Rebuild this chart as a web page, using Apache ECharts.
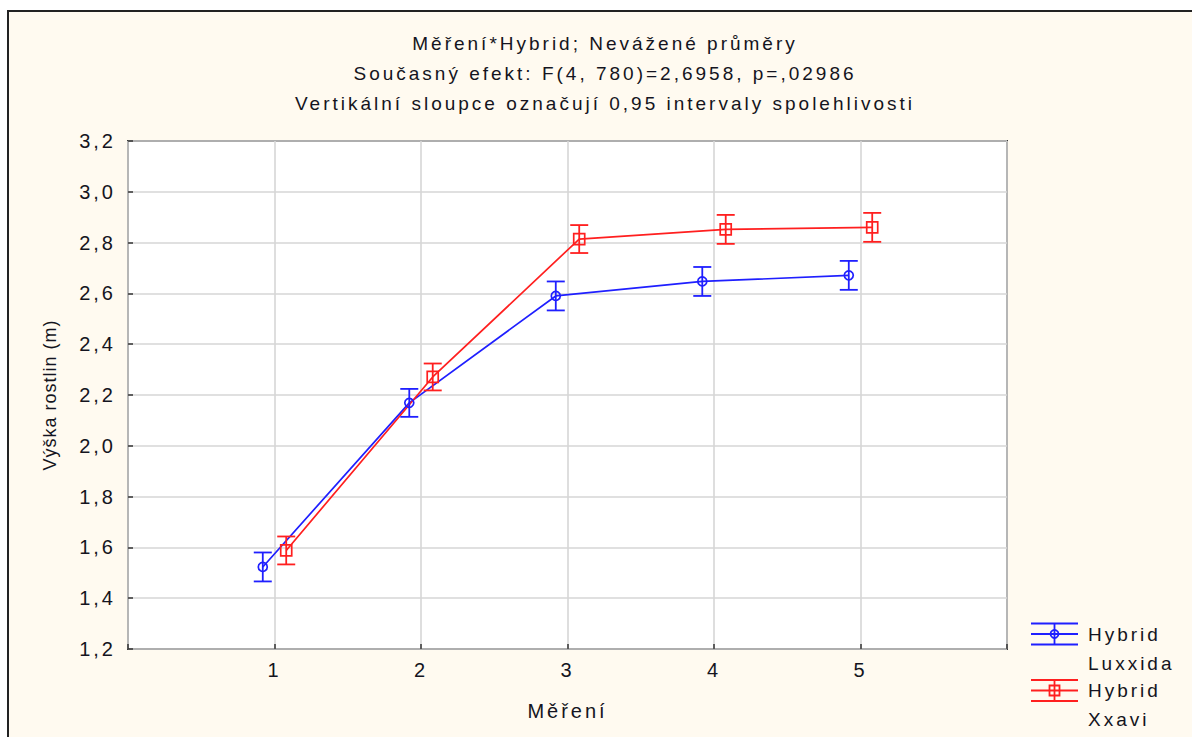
<!DOCTYPE html>
<html><head><meta charset="utf-8">
<script src="https://cdn.jsdelivr.net/npm/echarts@6/dist/echarts.min.js"></script>
<style>
html,body{margin:0;padding:0;background:#fff;overflow:hidden;}
#frame{position:absolute;left:7px;top:10px;width:1300px;height:800px;background:#fffaf0;border-top:2px solid #222;border-left:2px solid #222;}
#c{position:absolute;left:0;top:0;width:1192px;height:737px;}
#c svg text{letter-spacing:3px;}
#c svg text[style*="Arial"]{letter-spacing:1px;}
</style></head><body><div id="frame"></div><div id="c"></div>
<script>
// ---- data ----
const measurements = [1, 2, 3, 4, 5];
const seriesNames = ['Hybrid Luxxida', 'Hybrid Xxavi'];
const luxxidaMean = [1.523, 2.169, 2.590, 2.647, 2.671];
const luxxidaCI   = [0.057, 0.055, 0.057, 0.057, 0.057];
const xxaviMean   = [1.588, 2.271, 2.814, 2.852, 2.860];
const xxaviCI     = [0.055, 0.053, 0.055, 0.057, 0.057];
const titleLines = [
  'Měření*Hybrid; Nevážené průměry',
  'Současný efekt: F(4, 780)=2,6958, p=,02986',
  'Vertikální sloupce označují 0,95 intervaly spolehlivosti'
];
const xName = 'Měření';
const yName = 'Výška rostlin (m)';

// ---- style ----
const BLUE = '#1f1fff', RED = '#ff1f1f';
const FONT = 'Liberation Sans';
const TXT = '#141420';
const offsets = [-0.08, 0.08];
const means = [luxxidaMean, xxaviMean];
const cis = [luxxidaCI, xxaviCI];
const colors = [BLUE, RED];
const symbols = ['circle', 'rect'];
const symbolSizes = [9, 11];

function errRender(params, api) {
  const x = api.value(0), lo = api.value(1), hi = api.value(2);
  const a = api.coord([x, hi]), b = api.coord([x, lo]);
  const w = 9;
  const style = { stroke: api.visual('color'), lineWidth: 1.8, fill: null };
  return { type: 'group', children: [
    { type: 'line', shape: { x1: a[0], y1: a[1], x2: b[0], y2: b[1] }, style },
    { type: 'line', shape: { x1: a[0] - w, y1: a[1], x2: a[0] + w, y2: a[1] }, style },
    { type: 'line', shape: { x1: b[0] - w, y1: b[1], x2: b[0] + w, y2: b[1] }, style }
  ]};
}

const series = [];
seriesNames.forEach((name, s) => {
  series.push({
    name, type: 'line',
    data: measurements.map((m, i) => [m + offsets[s], means[s][i]]),
    symbol: symbols[s], symbolSize: symbolSizes[s], showSymbol: true,
    lineStyle: { color: colors[s], width: 1.7 },
    itemStyle: { color: 'rgba(0,0,0,0)', borderColor: colors[s], borderWidth: 1.7 },
    z: 3, animation: false
  });
  series.push({
    name: name + ' CI', type: 'custom',
    data: measurements.map((m, i) => [m + offsets[s], means[s][i] - cis[s][i], means[s][i] + cis[s][i]]),
    renderItem: errRender, itemStyle: { color: colors[s] },
    encode: { x: 0, y: [1, 2] }, z: 4, animation: false
  });
});

// legend drawn as graphic
const legendEls = [];
seriesNames.forEach((name, s) => {
  const cy = 634 + s * 56.5, x0 = 1031, x1 = 1078, xm = 1054.5, h = 10.5;
  const st = { stroke: colors[s], lineWidth: 1.8, fill: null };
  [-h, 0, h].forEach(d => legendEls.push({ type: 'line', shape: { x1: x0, y1: cy + d, x2: x1, y2: cy + d }, style: st }));
  legendEls.push({ type: 'line', shape: { x1: xm, y1: cy - h, x2: xm, y2: cy + h }, style: st });
  if (symbols[s] === 'circle') legendEls.push({ type: 'circle', shape: { cx: xm, cy, r: 4 }, style: st });
  else legendEls.push({ type: 'rect', shape: { x: xm - 5, y: cy - 5, width: 10, height: 10 }, style: st });
  legendEls.push({ type: 'text', x: 1088, y: cy - 14.5, style: {
    text: name.replace(' ', '\n'), fill: TXT, fontSize: 19, fontFamily: FONT,
    lineHeight: 29, verticalAlign: 'top', align: 'left' } });
});

const chart = echarts.init(document.getElementById('c'), null, { renderer: 'svg', width: 1192, height: 737 });
chart.setOption({
  backgroundColor: 'transparent',
  animation: false,
  title: {
    text: titleLines.join('\n'), left: 605, top: 28, padding: 0, textAlign: 'center',
    textStyle: { fontSize: 19, fontWeight: 'normal', fontFamily: FONT, color: TXT, lineHeight: 30 }
  },
  grid: { left: 128, top: 141, right: 185, bottom: 88, show: true, backgroundColor: '#fff',
          borderColor: '#3a3a3a', borderWidth: 2 },
  xAxis: {
    type: 'value', min: 0, max: 6, interval: 1,
    name: xName, nameLocation: 'middle', nameGap: 52,
    nameTextStyle: { fontSize: 20, fontFamily: FONT, color: TXT },
    axisLine: { show: false },
    axisTick: { show: true, inside: true, length: 5, lineStyle: { color: '#333', width: 1.5 } },
    axisLabel: { fontSize: 20, fontFamily: FONT, color: TXT, margin: 11,
      formatter: v => measurements.includes(v) ? String(v) : '' },
    splitLine: { show: true, lineStyle: { color: '#d6d6d6', width: 1.6 } }
  },
  yAxis: {
    type: 'value', min: 1.2, max: 3.2, interval: 0.2,
    name: yName, nameLocation: 'middle', nameGap: 69, nameRotate: 90,
    nameTextStyle: { fontSize: 18, fontFamily: FONT + ', Arial', color: TXT },
    axisLine: { show: false },
    axisTick: { show: true, inside: true, length: 5, lineStyle: { color: '#333', width: 1.5 } },
    axisLabel: { fontSize: 20, fontFamily: FONT, color: TXT, margin: 12,
      formatter: v => v.toFixed(1).replace('.', ',') },
    splitLine: { show: true, lineStyle: { color: '#d6d6d6', width: 1.6 } }
  },
  graphic: legendEls,
  series
});
</script></body></html>
